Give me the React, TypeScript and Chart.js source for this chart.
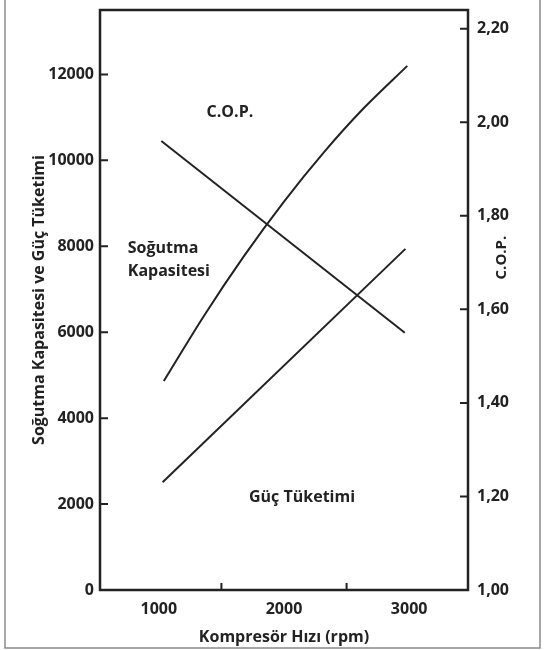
import React, { useEffect, useRef } from "react";
import { Chart, registerables } from "chart.js";

Chart.register(...registerables);

// ---- data ----
const capacityX = [1040, 1360, 1680, 2000, 2320, 2640, 2985];
const capacityY = [4865, 6378, 7770, 9041, 10193, 11224, 12200];

const powerX = [1030, 2970];
const powerY = [2510, 7940];

const copX = [1020, 2965];
const copY = [1.96, 1.55];

const xTickLabels = [1000, 2000, 3000];
const xMinorTicks = [1500, 2500];
const leftTicks = [0, 2000, 4000, 6000, 8000, 10000, 12000];
const rightTicks = [1.0, 1.2, 1.4, 1.6, 1.8, 2.0, 2.2];

const annotations = [
  { text: "C.O.P.", x: 1568, y: 11126, align: "center" },
  { text: "Soğutma", x: 752, y: 7960, align: "left" },
  { text: "Kapasitesi", x: 752, y: 7425, align: "left" },
  { text: "Güç Tüketimi", x: 2144, y: 2165, align: "center" },
];

const FONT = "'Open Sans', sans-serif";
const INK = "#222";

const decor = {
  id: "decor",
  beforeDraw(chart: any) {
    const ctx = chart.ctx;
    ctx.save();
    ctx.strokeStyle = "#8a8a8a";
    ctx.lineWidth = 1.5;
    ctx.beginPath();
    ctx.moveTo(5, -5);
    ctx.lineTo(5, 648);
    ctx.lineTo(540, 648);
    ctx.lineTo(540, -5);
    ctx.stroke();
    ctx.restore();
  },
  afterDraw(chart: any) {
    const ctx = chart.ctx;
    const a = chart.chartArea;
    const xs = chart.scales.x;
    const yl = chart.scales.y;
    const yr = chart.scales.y1;
    ctx.save();
    ctx.strokeStyle = INK;
    ctx.lineWidth = 2.5;
    ctx.strokeRect(a.left, a.top, a.right - a.left, a.bottom - a.top);
    ctx.lineWidth = 2;
    ctx.beginPath();
    leftTicks.forEach((v) => {
      if (v === 0) return;
      const p = yl.getPixelForValue(v);
      ctx.moveTo(a.left, p);
      ctx.lineTo(a.left + 8, p);
    });
    rightTicks.forEach((v) => {
      if (v === 1) return;
      const p = yr.getPixelForValue(v);
      ctx.moveTo(a.right, p);
      ctx.lineTo(a.right - 8, p);
    });
    xMinorTicks.forEach((v) => {
      const p = xs.getPixelForValue(v);
      ctx.moveTo(p, a.bottom);
      ctx.lineTo(p, a.bottom - 7);
    });
    ctx.stroke();

    // right axis title
    ctx.fillStyle = INK;
    ctx.font = `bold 15px ${FONT}`;
    ctx.textAlign = "center";
    ctx.textBaseline = "middle";
    ctx.save();
    ctx.translate(502, (yr.getPixelForValue(1.8) + yr.getPixelForValue(1.6)) / 2 - 5);
    ctx.rotate(-Math.PI / 2);
    ctx.fillText("C.O.P.", 0, 0);
    ctx.restore();

    // annotations
    ctx.font = `bold 16px ${FONT}`;
    annotations.forEach((n) => {
      ctx.textAlign = n.align as CanvasTextAlign;
      ctx.fillText(n.text, xs.getPixelForValue(n.x), yl.getPixelForValue(n.y));
    });
    ctx.restore();
  },
};

const zeroPad = (s: any) => {
  s.paddingTop = 0;
  s.paddingBottom = 0;
  s.paddingLeft = 0;
  s.paddingRight = 0;
};

export default function App() {
  const ref = useRef<HTMLCanvasElement>(null);
  useEffect(() => {
    if (!ref.current) return;
    const tickFont = { family: FONT, size: 16, weight: "bold" as const };
    const chart = new Chart(ref.current, {
      type: "line",
      data: {
        datasets: [
          {
            label: "Soğutma Kapasitesi",
            data: capacityX.map((x, i) => ({ x, y: capacityY[i] })),
            yAxisID: "y",
            borderColor: INK,
            borderWidth: 2,
            pointRadius: 0,
            tension: 0.3,
          },
          {
            label: "Güç Tüketimi",
            data: powerX.map((x, i) => ({ x, y: powerY[i] })),
            yAxisID: "y",
            borderColor: INK,
            borderWidth: 2,
            pointRadius: 0,
          },
          {
            label: "C.O.P.",
            data: copX.map((x, i) => ({ x, y: copY[i] })),
            yAxisID: "y1",
            borderColor: INK,
            borderWidth: 2,
            pointRadius: 0,
          },
        ],
      },
      plugins: [decor],
      options: {
        responsive: false,
        animation: false,
        devicePixelRatio: 1,
        layout: { padding: { top: 10, left: 0, right: 0, bottom: 0 } },
        plugins: { legend: { display: false }, tooltip: { enabled: false } },
        scales: {
          x: {
            type: "linear",
            min: 530,
            max: 3470,
            grid: { display: false, drawTicks: false },
            border: { display: false },
            afterBuildTicks: (s: any) => {
              s.ticks = xTickLabels.map((v) => ({ value: v }));
            },
            afterFit: (s: any) => {
              s.height = 60;
              zeroPad(s);
            },
            ticks: {
              font: tickFont,
              color: INK,
              padding: 10,
              maxRotation: 0,
              callback: (v: any) => String(v),
            },
            title: {
              display: true,
              text: "Kompresör Hızı (rpm)",
              font: { family: FONT, size: 16, weight: "bold" },
              color: INK,
              padding: { top: 0, bottom: 3 },
            },
          },
          y: {
            type: "linear",
            position: "left",
            min: 0,
            max: 13500,
            grid: { display: false, drawTicks: false },
            border: { display: false },
            afterBuildTicks: (s: any) => {
              s.ticks = leftTicks.map((v) => ({ value: v }));
            },
            afterFit: (s: any) => {
              s.width = 100;
              zeroPad(s);
            },
            ticks: {
              font: tickFont,
              color: INK,
              padding: 6,
              callback: (v: any) => String(v),
            },
            title: {
              display: true,
              text: "Soğutma Kapasitesi ve Güç Tüketimi",
              font: { family: FONT, size: 16, weight: "bold" },
              color: INK,
              padding: { top: 30, bottom: 0 },
            },
          },
          y1: {
            type: "linear",
            position: "right",
            min: 1,
            max: 2.24,
            grid: { display: false, drawTicks: false },
            border: { display: false },
            afterBuildTicks: (s: any) => {
              s.ticks = rightTicks.map((v) => ({ value: v }));
            },
            afterFit: (s: any) => {
              s.width = 77;
              zeroPad(s);
            },
            ticks: {
              font: tickFont,
              color: INK,
              padding: 9,
              callback: (v: any) => Number(v).toFixed(2).replace(".", ","),
            },
          },
        },
      },
    });
    return () => chart.destroy();
  }, []);
  return (
    <div style={{ position: "absolute", left: 0, top: 0, width: 545, height: 650 }}>
      <canvas ref={ref} width={545} height={650} style={{ display: "block" }} />
    </div>
  );
}
